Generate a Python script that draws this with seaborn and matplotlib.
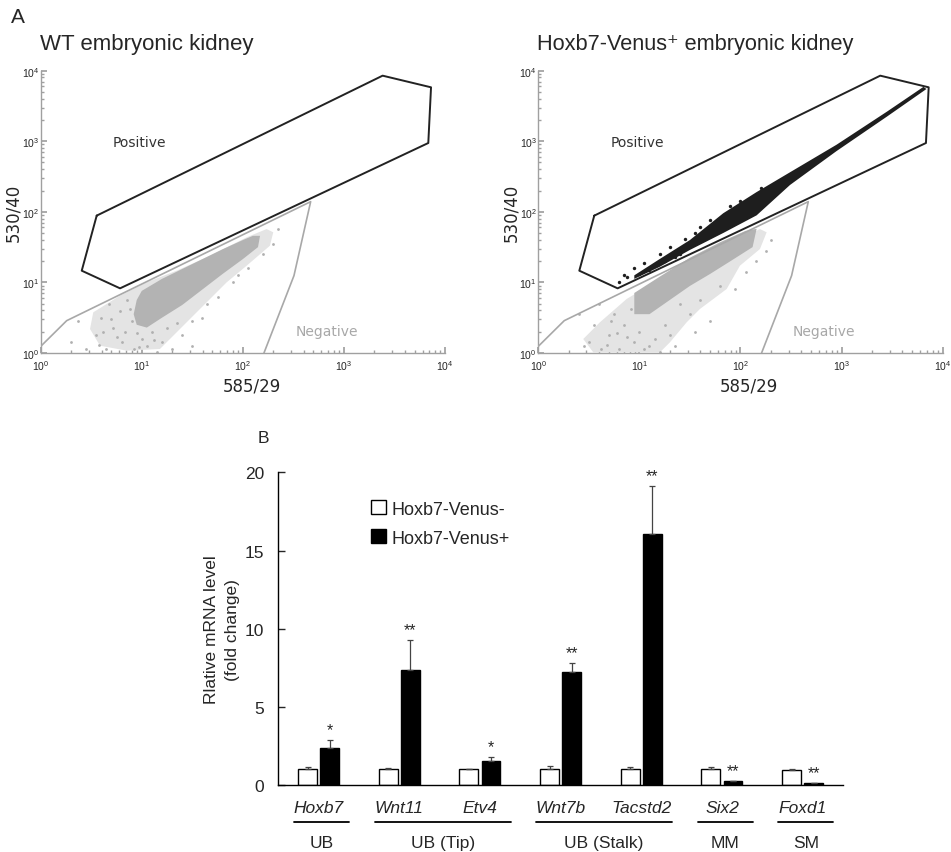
import numpy as np
import seaborn as sns
import pandas as pd
import matplotlib.pyplot as plt

sns.set_theme(style='white')
plt.rcParams['font.family'] = ['Liberation Sans', 'DejaVu Sans']

# ---- panel A: flow cytometry gates / populations (log10 units) ----
pos_gate_x = [0.554, 3.383, 3.862, 3.835, 0.785, 0.406, 0.554]
pos_gate_y = [1.946, 3.929, 3.764, 2.975, 0.916, 1.166, 1.946]
neg_gate_x = [0.0, 0.257, 2.671, 2.506, 2.209]
neg_gate_y = [0.094, 0.458, 2.144, 1.096, 0.0]

wt_halo_x = [0.520, 0.784, 1.048, 1.345, 1.675, 2.038, 2.235, 2.301, 2.268, 2.038,
             1.840, 1.675, 1.509, 1.345, 1.180, 0.851, 0.587, 0.488]
wt_halo_y = [0.576, 0.812, 1.001, 1.166, 1.378, 1.639, 1.756, 1.710, 1.520, 1.237,
             1.001, 0.765, 0.528, 0.293, 0.057, 0.033, 0.103, 0.340]
wt_core_x = [0.92, 0.95, 1.00, 1.20, 1.50, 1.80, 2.00, 2.10, 2.17,
             2.15, 2.00, 1.80, 1.60, 1.40, 1.20, 1.05, 0.95]
wt_core_y = [0.55, 0.75, 0.88, 1.05, 1.26, 1.47, 1.60, 1.66, 1.66,
             1.50, 1.33, 1.12, 0.90, 0.68, 0.50, 0.36, 0.40]
wt_dots_x = [0.30, 0.37, 0.55, 0.60, 0.65, 0.72, 0.78, 0.80, 0.85, 0.90, 0.92, 1.00,
             1.05, 1.10, 1.20, 1.25, 1.30, 1.40, 1.50, 1.60, 1.75, 1.90, 2.05, 2.20,
             2.30, 2.35, 1.50, 0.45, 0.68, 1.15, 0.58, 0.75, 0.83, 0.97, 1.12, 0.70,
             0.88, 1.35, 1.65, 1.95, 0.62, 0.95]
wt_dots_y = [0.15, 0.45, 0.25, 0.50, 0.05, 0.35, 0.60, 0.15, 0.75, 0.45, 0.05, 0.20,
             0.10, 0.30, 0.15, 0.35, 0.05, 0.25, 0.45, 0.50, 0.80, 1.00, 1.20, 1.40,
             1.55, 1.75, 0.10, 0.05, 0.70, 0.02, 0.12, 0.22, 0.30, 0.08, 0.18, 0.48,
             0.62, 0.42, 0.70, 1.10, 0.30, 0.28]

tg_halo_x = [0.610, 0.874, 1.204, 1.533, 1.864, 2.193, 2.259, 2.193, 1.995, 1.864,
             1.599, 1.468, 1.303, 1.204, 0.544, 0.445]
tg_halo_y = [0.435, 0.765, 1.048, 1.285, 1.520, 1.756, 1.710, 1.473, 1.237, 0.907,
             0.623, 0.435, 0.152, 0.010, 0.010, 0.198]
tg_core_x = [0.95, 1.20, 1.50, 1.80, 2.05, 2.16, 2.12, 1.90, 1.70, 1.50, 1.30, 1.10, 0.95]
tg_core_y = [0.85, 1.08, 1.35, 1.57, 1.73, 1.76, 1.50, 1.30, 1.12, 0.95, 0.75, 0.55, 0.55]
tg_dots_x = [0.50, 0.55, 0.60, 0.70, 0.75, 0.80, 0.85, 0.95, 1.00, 1.05, 1.15, 1.25,
             1.35, 1.40, 1.55, 1.60, 1.70, 1.80, 1.95, 2.05, 2.15, 2.30, 0.40, 0.45,
             0.62, 0.68, 0.78, 0.88, 1.10, 1.20, 0.72, 0.92, 1.30, 1.50, 2.25]
tg_dots_y = [0.15, 0.40, 0.70, 0.25, 0.55, 0.05, 0.40, 0.15, 0.30, 0.05, 0.20, 0.40,
             0.10, 0.70, 0.30, 0.75, 0.45, 0.95, 0.90, 1.15, 1.30, 1.60, 0.55, 0.10,
             0.05, 0.12, 0.28, 0.22, 0.10, 0.02, 0.45, 0.62, 0.25, 0.55, 1.45]
venus_band_x = [0.95, 1.20, 1.50, 1.83, 2.16, 2.49, 2.95, 3.45, 3.81,
                3.84, 3.45, 2.95, 2.49, 2.16, 1.83, 1.50, 1.20, 0.95]
venus_band_y = [1.10, 1.33, 1.60, 1.98, 2.28, 2.56, 2.95, 3.42, 3.77,
                3.74, 3.35, 2.86, 2.38, 1.95, 1.70, 1.46, 1.22, 1.05]
venus_dots_x = [0.80, 0.85, 0.88, 0.95, 1.00, 1.05, 1.10, 1.20, 1.25, 1.30, 1.40,
                1.45, 1.55, 1.65, 1.70, 1.75, 1.90, 2.00, 2.20, 1.35, 1.60]
venus_dots_y = [1.00, 1.10, 1.08, 1.20, 1.12, 1.28, 1.18, 1.40, 1.30, 1.50, 1.40,
                1.62, 1.70, 1.62, 1.88, 1.72, 2.08, 2.16, 2.34, 1.36, 1.78]

# ---- panel B: qPCR ----
genes = ['Hoxb7', 'Wnt11', 'Etv4', 'Wnt7b', 'Tacstd2', 'Six2', 'Foxd1']
neg_mean = [1.0, 1.0, 1.0, 1.0, 1.0, 1.0, 0.98]
neg_err = [0.13, 0.10, 0.05, 0.20, 0.15, 0.15, 0.04]
pos_mean = [2.39, 7.36, 1.56, 7.25, 16.06, 0.23, 0.13]
pos_err = [0.49, 1.92, 0.21, 0.55, 3.07, 0.05, 0.02]
stars = ['*', '**', '*', '**', '**', '**', '**']
group_names = ['UB', 'UB (Tip)', 'UB (Stalk)', 'MM', 'SM']
group_members = [[0], [1, 2], [3, 4], [5], [6]]


def lg(v):
    return 10 ** np.asarray(v)


def draw_flow(ax, halo, core, dots, band=None, band_dots=None):
    ax.fill(lg(halo[0]), lg(halo[1]), color='#e4e4e4', lw=0, zorder=1)
    ax.fill(lg(core[0]), lg(core[1]), color='#b3b3b3', lw=0, zorder=2)
    sns.scatterplot(x=lg(dots[0]), y=lg(dots[1]), ax=ax, s=4, color='#b0b0b0',
                    linewidth=0, zorder=2)
    if band is not None:
        ax.fill(lg(band[0]), lg(band[1]), color='#1e1e1e', lw=0, zorder=3)
        sns.scatterplot(x=lg(band_dots[0]), y=lg(band_dots[1]), ax=ax, s=6,
                        color='#1e1e1e', linewidth=0, zorder=3)
    ax.plot(lg(pos_gate_x), lg(pos_gate_y), color='#222222', lw=1.4, zorder=4)
    ax.plot(lg(neg_gate_x), lg(neg_gate_y), color='#a8a8a8', lw=1.2, zorder=4)
    ax.set_xscale('log')
    ax.set_yscale('log')
    ax.set_xlim(1, 1e4)
    ax.set_ylim(1, 1e4)
    ax.text(10 ** 0.98, 10 ** 2.985, 'Positive', family='DejaVu Sans', fontsize=10,
            color='#333333', ha='center', va='center')
    ax.text(10 ** 2.83, 10 ** 0.316, 'Negative', family='DejaVu Sans', fontsize=10,
            color='#a8a8a8', ha='center', va='center')
    sns.despine(ax=ax)
    for s in ['left', 'bottom']:
        ax.spines[s].set_color('#a0a0a0')
        ax.spines[s].set_linewidth(1.0)
    ax.tick_params(which='both', direction='in', color='#a0a0a0', labelsize=7.5,
                   left=True, bottom=True)
    ax.tick_params(axis='x', pad=4)
    ax.tick_params(axis='y', pad=1)
    ax.tick_params(which='major', length=4)
    ax.tick_params(which='minor', length=2)
    ax.set_xlabel('585/29', family='DejaVu Sans', fontsize=12)
    ax.set_ylabel('530/40', family='DejaVu Sans', fontsize=12)
    ax.xaxis.set_label_coords(0.522, -0.085)
    ax.yaxis.set_label_coords(-0.045, 0.5)


fig = plt.figure(figsize=(9.51, 8.53), dpi=100)
ax1 = fig.add_axes([0.0428, 0.585, 0.4251, 0.331])
ax2 = fig.add_axes([0.566, 0.585, 0.4252, 0.331])
draw_flow(ax1, (wt_halo_x, wt_halo_y), (wt_core_x, wt_core_y), (wt_dots_x, wt_dots_y))
draw_flow(ax2, (tg_halo_x, tg_halo_y), (tg_core_x, tg_core_y), (tg_dots_x, tg_dots_y),
          (venus_band_x, venus_band_y), (venus_dots_x, venus_dots_y))

fig.text(0.012, 0.991, 'A', fontsize=15, va='top')
fig.text(0.042, 0.96, 'WT embryonic kidney', fontsize=16, va='top')
fig.text(0.5644, 0.96, 'Hoxb7-Venus\u207a embryonic kidney', fontsize=15.7, va='top')
fig.text(0.271, 0.495, 'B', fontsize=12.5, va='top')

# bar chart
ax3 = fig.add_axes([0.2926, 0.0785, 0.5938, 0.3666])
df = pd.DataFrame({
    'gene': genes * 2,
    'cells': ['Hoxb7-Venus-'] * len(genes) + ['Hoxb7-Venus+'] * len(genes),
    'level': neg_mean + pos_mean,
})
sns.barplot(data=df, x='gene', y='level', hue='cells', palette=['white', 'black'],
            edgecolor='black', linewidth=1, width=0.55, gap=0.15, errorbar=None,
            saturation=1, ax=ax3)

for k, (cont, err) in enumerate(zip(ax3.containers, [neg_err, pos_err])):
    xs = [b.get_x() + b.get_width() / 2 for b in cont]
    hs = [b.get_height() for b in cont]
    ax3.errorbar(xs, hs, yerr=[np.zeros(len(err)), err], fmt='none', ecolor='#444444',
                 elinewidth=0.9, capsize=2.5, capthick=0.9, zorder=1)
    if k == 1:
        for x, h, e, s in zip(xs, hs, err, stars):
            ax3.annotate(s, (x, h + e), xytext=(0, 2), textcoords='offset points',
                         ha='center', va='bottom', fontsize=11.5)

ax3.set_ylim(0, 20)
ax3.set_xlim(-0.5, len(genes) - 0.5)
ax3.set_yticks([0, 5, 10, 15, 20])
ax3.set_xticks([])
ax3.set_xlabel('')
ax3.set_ylabel('Rlative mRNA level\n(fold change)', fontsize=12.5, linespacing=1.45)
ax3.yaxis.set_label_coords(-0.068, 0.5)
ax3.tick_params(axis='y', direction='in', length=5, width=1, labelsize=12.5, pad=10,
                left=True)
sns.despine(ax=ax3)
for s in ['left', 'bottom']:
    ax3.spines[s].set_color('black')
    ax3.spines[s].set_linewidth(1)

tr = ax3.get_xaxis_transform()
for i, g in enumerate(genes):
    ax3.text(i, -0.072, g, transform=tr, ha='center', va='center', fontsize=12.5,
             style='italic')
for name, members in zip(group_names, group_members):
    x0, x1 = min(members) - 0.3, max(members) + 0.38
    ax3.plot([x0, x1], [-0.118, -0.118], transform=tr, color='black', lw=1.3,
             clip_on=False)
    ax3.text((x0 + x1) / 2, -0.184, name, transform=tr, ha='center', va='center',
             fontsize=12.5)

handles, labels = ax3.get_legend_handles_labels()
ax3.legend(handles, labels, loc='upper left', bbox_to_anchor=(0.165, 0.91),
           frameon=False, fontsize=13, handlelength=0.8, handleheight=0.8,
           handletextpad=0.3, labelspacing=0.65, borderpad=0, borderaxespad=0)

fig.savefig('out.png', dpi=100)
